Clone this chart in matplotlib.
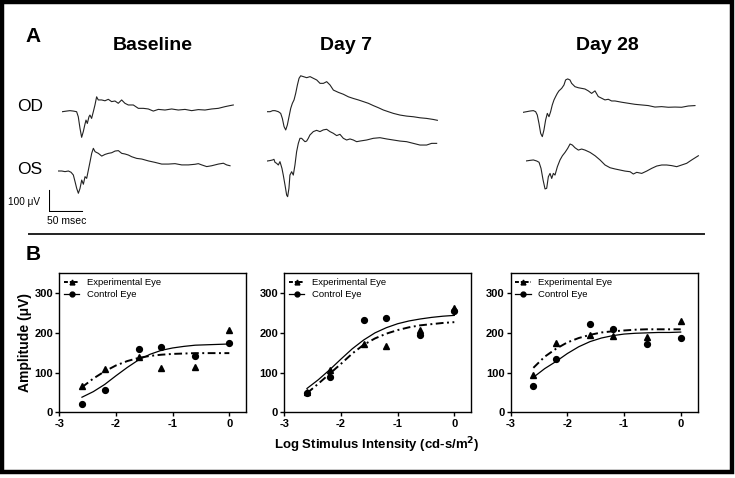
import numpy as np
import matplotlib
matplotlib.use("Agg")
import matplotlib.pyplot as plt
from matplotlib.lines import Line2D
from matplotlib.patches import Rectangle

plt.rcParams['font.family'] = ['Liberation Sans', 'DejaVu Sans']
plt.rcParams['axes.unicode_minus'] = False

W, H = 735, 478

# ---------------- panel A: ERG traces (time in ms, amplitude in uV) ----------------
base_od_t = [0, 6.6, 11.6, 16.7, 21.7, 24.2, 26.8, 29.3, 31.8, 34.3, 35.9, 37.9, 40.4, 41.9, 44.4, 47.0,
             49.5, 52.0, 54.5, 59.6, 64.6, 69.7, 74.7, 79.8, 84.8, 89.9, 94.9, 100, 107.6, 115.2, 122.7,
             130.3, 137.9, 145.5, 155.6, 165.7, 175.8, 185.9, 196, 206.1, 216.2, 226.3, 236.4, 246.5, 254, 259.1]
base_od_v = [0, 3, 5, 3, 0, -24, -79, -122, -95, -60, -40, -56, -24, -16, -32, 0,
             32, 71, 56, 56, 52, 59, 48, 51, 40, 56, 40, 32, 32, 16, 16,
             13, 3, 11, 8, 13, 8, 11, 5, 10, 8, 13, 16, 24, 29, 32]

base_os_t = [0, 6.1, 11.1, 16.2, 20.2, 23.7, 26.3, 28.8, 31.3, 33.8, 36.4, 38.9, 41.4, 43.9, 46.5, 49.0,
             51.5, 54.0, 56.6, 61.6, 66.7, 71.7, 76.8, 81.8, 86.9, 91.9, 97.0, 102.0, 107.1, 112.1, 119.7,
             127.3, 137.4, 147.5, 157.6, 167.7, 177.8, 187.9, 198, 208.1, 213.1, 218.2, 225.8, 233.3, 243.4,
             251, 256, 261.1]
base_os_v = [0, 0, -3, 0, -6, -19, -51, -83, -106, -83, -43, -63, -27, -35, 5, 44,
             84, 108, 92, 84, 71, 79, 84, 87, 95, 97, 84, 81, 76, 68, 60,
             57, 48, 41, 33, 33, 35, 29, 29, 32, 35, 29, 21, 25, 33,
             37, 29, 25]

d7_od_t = [0, 5.1, 9.1, 12.6, 17.7, 21.2, 23.7, 26.3, 28.8, 31.3, 33.8, 36.4, 38.9, 41.4, 43.9, 46.5,
           49.0, 51.5, 55.6, 60.6, 65.7, 70.7, 75.8, 80.8, 85.9, 90.9, 96, 101, 108.6, 116.2, 123.7,
           131.3, 138.9, 146.5, 154, 161.6, 169.2, 176.8, 184.3, 191.9, 202, 212.1, 222.2, 232.3, 242.4,
           252.5, 258.6]
d7_od_v = [0, 0, 5, 5, 0, -8, -32, -71, -87, -63, -24, 16, 40, 56, 87, 127,
           159, 171, 167, 162, 167, 159, 151, 135, 135, 143, 127, 103, 92, 83, 71,
           63, 56, 48, 40, 29, 19, 8, 0, -8, -16, -21, -24, -29, -32,
           -37, -41]

d7_os_t = [0, 4.0, 8.1, 10.1, 11.6, 14.1, 16.7, 19.2, 20.7, 22.2, 24.2, 26.8, 29.3, 30.8, 32.8, 34.3,
           36.9, 39.4, 41.9, 44.4, 47.0, 49.5, 52.0, 54.5, 57.1, 59.6, 62.1, 64.6, 67.2, 69.7, 74.7,
           79.8, 84.8, 89.9, 94.9, 100, 105.1, 110.1, 115.2, 120.2, 125.3, 130.3, 135.4, 140.4, 150.5,
           160.6, 170.7, 180.8, 190.9, 201, 211.1, 221.2, 231.3, 241.4, 249, 256.6]
d7_os_v = [0, 2, 5, 8, -6, -11, -19, -3, -19, -35, -67, -114, -162, -170, -130, -67,
           -51, -67, -19, 44, 84, 108, 108, 100, 92, 95, 108, 124, 132, 140, 146,
           140, 148, 151, 140, 132, 121, 127, 108, 100, 105, 100, 92, 95, 100,
           108, 111, 105, 100, 95, 92, 84, 76, 76, 84, 84]

d28_od_t = [0, 5.1, 10.1, 15.2, 18.7, 21.2, 23.7, 26.3, 28.8, 31.3, 33.8, 36.4, 38.9, 41.4, 43.9, 46.5,
            49.0, 51.5, 54.0, 58.1, 61.6, 64.1, 67.2, 70.7, 73.2, 78.3, 83.3, 88.4, 93.4, 98.5, 103.5,
            108.6, 113.6, 118.7, 123.7, 128.8, 133.8, 138.9, 149, 159.1, 169.2, 179.3, 189.4, 199.5, 209.6,
            219.7, 229.8, 239.9, 250, 260.1]
d28_od_v = [0, 3, 6, 8, 3, -13, -52, -100, -116, -84, -37, -5, -21, 3, 35, 59,
            75, 90, 102, 114, 130, 154, 159, 154, 138, 122, 117, 114, 111, 102, 90,
            102, 75, 67, 59, 62, 54, 54, 48, 43, 38, 35, 32, 25, 27,
            24, 25, 24, 30, 32]

d28_os_t = [0, 6.6, 11.6, 16.7, 20.2, 23.2, 26.3, 29.3, 31.8, 34.3, 36.9, 39.4, 41.9, 44.4, 48.0, 52.0,
            55.6, 59.6, 63.6, 67.2, 70.7, 74.7, 79.8, 84.8, 89.9, 97.5, 105.1, 112.6, 120.2, 127.8, 135.4,
            143, 150.5, 158.1, 163.1, 168.2, 175.8, 183.3, 190.9, 198.5, 206.1, 213.6, 221.2, 228.8, 236.4,
            243.9, 251.5, 261.6]
d28_os_v = [0, 3, 5, 0, -6, -35, -90, -133, -130, -75, -59, -83, -59, -67, -27, 5,
            25, 41, 60, 81, 76, 63, 52, 57, 52, 41, 25, 5, -19, -32, -38,
            -43, -48, -51, -62, -54, -59, -48, -35, -24, -19, -19, -22, -27, -19,
            -11, 5, 25]

# ---------------- panel B: intensity-response data ----------------
log_int = [-2.6, -2.2, -1.6, -1.2, -0.6, 0.0]
exp_pts = [[65, 110, 138, 111, 113, 206],
           [52, 106, 172, 167, 207, 262],
           [94, 174, 194, 193, 190, 231]]
ctl_pts = [[21, 57, 160, 164, 142, 174],
           [49, 88, 232, 238, 194, 256],
           [65, 133, 222, 210, 172, 188]]

fit_x = [-2.6, -2.4, -2.2, -2.0, -1.8, -1.6, -1.4, -1.2, -1.0, -0.8, -0.6, -0.4, -0.2, 0.0]
exp_fit = [[63, 85, 103, 118, 129, 137, 142, 145, 147, 148, 149, 149, 149, 149],
           [48, 72, 97, 122, 148, 170, 186, 198, 207, 214, 219, 222, 225, 227],
           [112, 140, 160, 176, 187, 195, 201, 204, 206, 208, 209, 209, 209, 209]]
ctl_fit = [[38, 52, 70, 92, 113, 132, 146, 156, 162, 166, 169, 170, 171, 172],
           [60, 82, 107, 134, 160, 182, 200, 213, 223, 230, 235, 239, 242, 244],
           [88, 110, 128, 148, 165, 178, 187, 193, 197, 199, 200, 201, 201, 202]]

fig = plt.figure(figsize=(W / 100, H / 100), dpi=100)


def px_axes(left, top, width, height):
    return fig.add_axes([left / W, 1 - (top + height) / H, width / W, height / H])


def ftext(x, y, s, **kw):
    fig.text(x / W, 1 - y / H, s, **kw)


# trace scale: 0.66 px per ms, 0.21 px per uV
XS, YS = 0.66, 0.21
traces = [(base_od_t, base_od_v, 62.3, 111.7), (base_os_t, base_os_v, 57.7, 171),
          (d7_od_t, d7_od_v, 266.7, 111.7), (d7_os_t, d7_os_v, 267.3, 161),
          (d28_od_t, d28_od_v, 523.3, 112.3), (d28_os_t, d28_os_v, 525.7, 161)]
for t, v, x0, y0 in traces:
    ax = px_axes(x0, y0 - 200 * YS, 270 * XS, 400 * YS)
    ax.plot(t, v, color='#222222', lw=0.8)
    ax.set_xlim(0, 270)
    ax.set_ylim(-200, 200)
    ax.axis('off')

# scale bar
sb = px_axes(49, 212 - 110 * YS, 60 * XS, 110 * YS)
sb.plot([0, 0, 50], [100, 0, 0], color='black', lw=1.5, solid_joinstyle='miter')
sb.set_xlim(0, 60)
sb.set_ylim(0, 110)
sb.axis('off')
ftext(40, 202, '100 \u03bcV', fontsize=7.2, ha='right', va='center')
ftext(47, 221, '50 msec', fontsize=7.5, ha='left', va='center')

ftext(25, 36, 'A', fontsize=15, fontweight='bold', va='center')
for name, cx in [('Baseline', 153), ('Day 7', 346), ('Day 28', 607)]:
    ftext(cx, 45, name, fontsize=14, fontweight='bold', ha='center', va='center')
ftext(17, 106.5, 'OD', fontsize=12.5, va='center')
ftext(17, 170, 'OS', fontsize=12.5, va='center')

fig.add_artist(Line2D([29 / W, 704 / W], [1 - 234.3 / H, 1 - 234.3 / H], color='#222222', lw=1.4))

# panel B
ftext(26, 254, 'B', fontsize=15, fontweight='bold', va='center')
lefts = [59.3, 284.3, 510.7]
for i, l in enumerate(lefts):
    ax = px_axes(l, 273.3, 187, 139)
    ax.plot(fit_x, exp_fit[i], color='black', lw=1.4, ls=(0, (4, 1.8, 1, 1.8)))
    ax.plot(fit_x, ctl_fit[i], color='black', lw=0.9)
    ax.plot(log_int, exp_pts[i], ls='none', marker='^', ms=4.2, color='black')
    ax.plot(log_int, ctl_pts[i], ls='none', marker='o', ms=4.2, color='black')
    ax.set_xlim(-3, 0.3)
    ax.set_ylim(0, 350)
    ax.set_xticks([-3, -2, -1, 0])
    ax.set_yticks([0, 100, 200, 300])
    ax.tick_params(direction='out', length=3, width=1, labelsize=8, pad=1.5)
    for lab in ax.get_xticklabels() + ax.get_yticklabels():
        lab.set_fontweight('bold')
    for sp in ax.spines.values():
        sp.set_linewidth(1.0)
    handles = [Line2D([], [], color='black', lw=1.4, ls=(0, (2, 1, 1, 1)), marker='^', ms=3.5),
               Line2D([], [], color='black', lw=0.9, marker='o', ms=3.5)]
    ax.legend(handles, ['Experimental Eye', 'Control Eye'], loc='upper left', frameon=False,
              fontsize=6.8, handlelength=1.6, handletextpad=0.8, borderaxespad=0.3,
              labelspacing=0.35, borderpad=0.2)

ftext(25.5, 343, 'Amplitude (\u03bcV)', fontsize=10, fontweight='bold', rotation=90,
      ha='center', va='center')
ftext(377, 445, 'Log Stimulus Intensity (cd-s/m$^\\mathbf{2}$)', fontsize=9.5, fontweight='bold',
      ha='center', va='center')

# outer frame
fig.add_artist(Rectangle((2 / W, 1 - 472 / H), 730 / W, 470 / H, transform=fig.transFigure,
                         fill=False, ec='black', lw=3.2))

fig.savefig('out.png', dpi=100)
